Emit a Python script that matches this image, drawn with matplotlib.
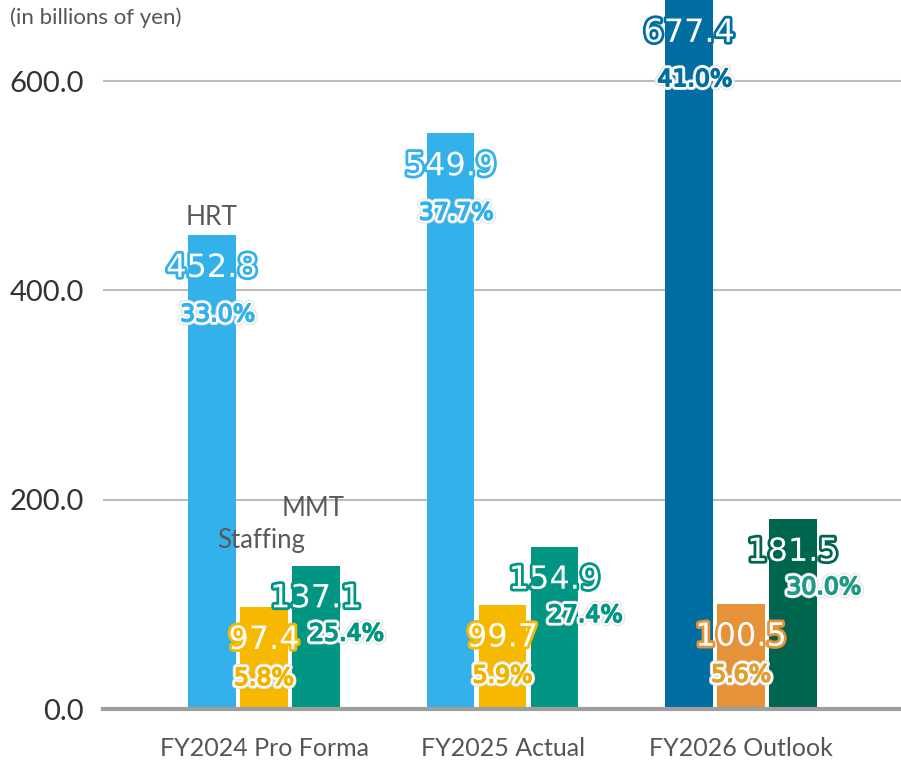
import matplotlib.pyplot as plt
import matplotlib.patheffects as pe
import numpy as np

# ---- data ----
periods = ["FY2024 Pro Forma", "FY2025 Actual", "FY2026 Outlook"]
segments = ["HRT", "Staffing", "MMT"]
hrt = [452.8, 549.9, 677.4]
staffing = [97.4, 99.7, 100.5]
mmt = [137.1, 154.9, 181.5]
hrt_margin = ["33.0%", "37.7%", "41.0%"]
staffing_margin = ["5.8%", "5.9%", "5.6%"]
mmt_margin = ["25.4%", "27.4%", "30.0%"]
yticks = [0, 200, 400, 600]

# actual years vs outlook year use different shades
colors = {
    "HRT": ["#33b1ea", "#33b1ea", "#006ea0"],
    "Staffing": ["#f7b900", "#f7b900", "#e69238"],
    "MMT": ["#009683", "#009683", "#00654f"],
}
pct_colors = {
    "HRT": ["#33b1ea", "#33b1ea", "#006ea0"],
    "Staffing": ["#f0b400", "#f0b400", "#e0a030"],
    "MMT": ["#009683", "#009683", "#1f9a86"],
}
# label offsets (points) of margin labels
pct_dx = {"HRT": 4, "Staffing": 0, "MMT": 22}
pct_dy = {"HRT": -57, "Staffing": -51, "MMT": -49}

fig = plt.figure(figsize=(9.01, 7.6), dpi=100)
ax = fig.add_axes([103 / 901, 51 / 760, 798 / 901, 709 / 760])

x = np.arange(len(periods))
width = 0.2
step = 0.218
series = [("HRT", hrt, hrt_margin), ("Staffing", staffing, staffing_margin),
          ("MMT", mmt, mmt_margin)]

for i, (name, vals, margins) in enumerate(series):
    pos = x + (i - 1) * step
    ax.bar(pos, vals, width, color=colors[name], zorder=3)
    for j, (p, v, m) in enumerate(zip(pos, vals, margins)):
        c = colors[name][j]
        pc = pct_colors[name][j]
        ax.annotate(f"{v:.1f}", (p, v), xytext=(0, -24), textcoords="offset points",
                    ha="center", va="center", fontsize=23, color="white",
                    family="DejaVu Sans", zorder=5, annotation_clip=False,
                    path_effects=[pe.withStroke(linewidth=4, foreground=c)])
        ax.annotate(m, (p, v), xytext=(pct_dx[name], pct_dy[name]),
                    textcoords="offset points", ha="center", va="center",
                    fontsize=17, color=pc,
                    family="DejaVu Sans", zorder=5, annotation_clip=False,
                    path_effects=[pe.withStroke(linewidth=5.5, foreground="#e2e2e2"),
                                  pe.withStroke(linewidth=4, foreground="white"),
                                  pe.withStroke(linewidth=1.2, foreground=pc)])

# segment names over the first group
label_font = "Lato"
ax.annotate("HRT", (x[0] - step, hrt[0]), xytext=(0, 13), textcoords="offset points",
            ha="center", va="center", fontsize=19, color="#595959", family=label_font)
ax.annotate("Staffing", (x[0], staffing[0]), xytext=(-2, 48), textcoords="offset points",
            ha="center", va="center", fontsize=18.5, color="#595959", family=label_font)
ax.annotate("MMT", (x[0] + step, mmt[0]), xytext=(-2, 41), textcoords="offset points",
            ha="center", va="center", fontsize=18.5, color="#595959", family=label_font)

ax.set_xlim(-0.675, 2.67)
ax.set_ylim(0, 677.4)
ax.set_yticks(yticks)
ax.set_yticklabels([f"{t:.1f}" for t in yticks], fontsize=21, color="#333333",
                   family=label_font)
ax.set_xticks(x)
ax.set_xticklabels(periods, fontsize=18, color="#555555", family=label_font)
ax.tick_params(axis="y", length=0, pad=14)
ax.tick_params(axis="x", length=0, pad=20)

ax.grid(axis="y", color="#bdbdbd", linewidth=1.5, zorder=0)
ax.set_axisbelow(True)
for s in ["top", "right", "left"]:
    ax.spines[s].set_visible(False)
ax.spines["bottom"].set_color("#9e9e9e")
ax.spines["bottom"].set_linewidth(3)
ax.spines["bottom"].set_zorder(4)

fig.text(10 / 901, 1 - 18 / 760, "(in billions of yen)", fontsize=16, color="#555555",
         family=label_font, va="center", ha="left")

fig.savefig("out.png", dpi=100)
